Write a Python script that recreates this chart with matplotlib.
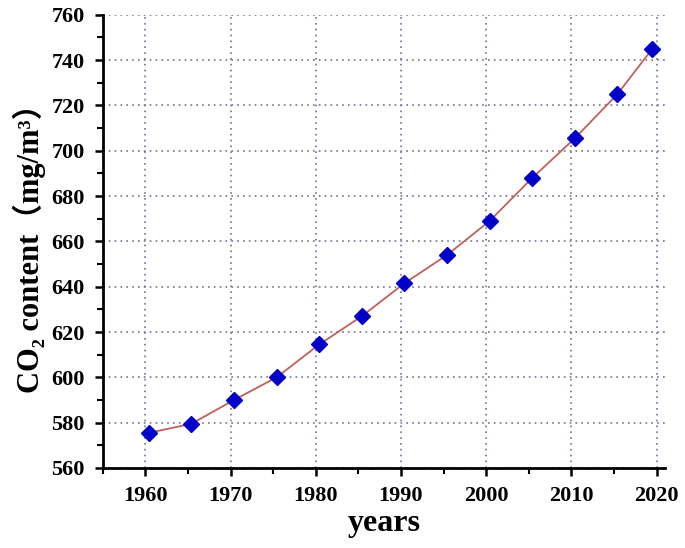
import matplotlib
matplotlib.use("Agg")
import matplotlib.pyplot as plt
from matplotlib.ticker import MultipleLocator

years = [1960.4, 1965.4, 1970.4, 1975.4, 1980.4, 1985.4, 1990.4, 1995.4,
         2000.4, 2005.4, 2010.4, 2015.4, 2019.5]
co2 = [575.5, 579.5, 590, 600, 614.5, 627, 641.5, 654, 669, 688, 705.5, 725, 745]

plt.rcParams['font.family'] = ['Liberation Serif', 'Noto Sans CJK SC']
plt.rcParams['font.weight'] = 'bold'

fig = plt.figure(figsize=(6.85, 5.48), dpi=100)
ax = fig.add_axes([0.150, 0.146, 0.821, 0.827])

ax.plot(years, co2, color='#c0605a', linewidth=1.3, zorder=2)
ax.plot(years, co2, linestyle='none', marker='D', markersize=8,
        color='#0000c8', zorder=3)

ax.set_xlim(1955, 2021)
ax.set_ylim(560, 760)
ax.xaxis.set_major_locator(MultipleLocator(10))
ax.xaxis.set_minor_locator(MultipleLocator(5))
ax.yaxis.set_major_locator(MultipleLocator(20))
ax.yaxis.set_minor_locator(MultipleLocator(10))

ax.grid(True, which='major', linestyle=(0, (1, 2.5)), color='#7070a0', linewidth=1.2)
ax.set_axisbelow(True)

for s in ['top', 'right']:
    ax.spines[s].set_visible(False)
for s in ['left', 'bottom']:
    ax.spines[s].set_linewidth(2)

ax.tick_params(which='major', direction='out', length=6, width=1.8, labelsize=16, pad=7)
ax.tick_params(which='minor', direction='out', length=4, width=1.5)
for lbl in ax.get_xticklabels() + ax.get_yticklabels():
    lbl.set_fontweight('bold')

ax.set_xlabel('years', fontsize=23, fontweight='bold', labelpad=2)
ax.set_ylabel('CO₂ content（mg/m³）', fontsize=22, fontweight='bold', labelpad=4)

fig.savefig('out.png', dpi=100)
